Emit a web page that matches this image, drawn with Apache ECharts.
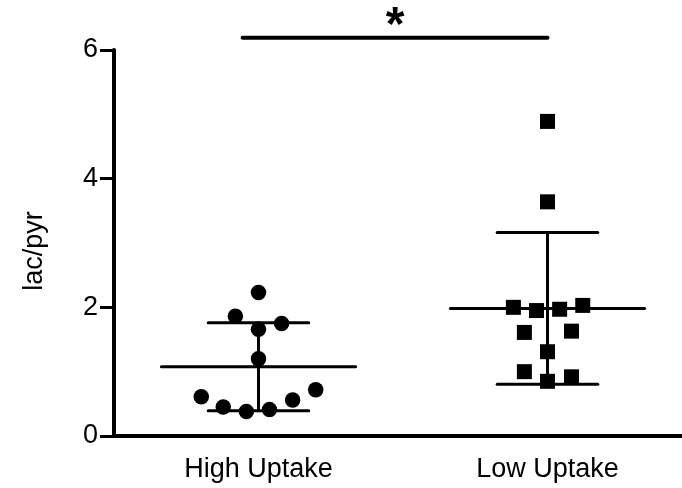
<!DOCTYPE html>
<html>
<head>
<meta charset="utf-8">
<script src="https://cdn.jsdelivr.net/npm/echarts@6/dist/echarts.min.js"></script>
<style>
  html, body { margin: 0; padding: 0; background: #fff; }
  #chart { width: 682px; height: 488px; }
</style>
</head>
<body>
<div id="chart"></div>
<script>
// Group names and the individual lac/pyr ratios in each group
const categories = ['High Uptake', 'Low Uptake'];
const highUptake = [2.23, 1.86, 1.75, 1.66, 1.20, 0.61, 0.72, 0.56, 0.45, 0.38, 0.41];
const lowUptake = [4.89, 3.64, 2.00, 1.95, 1.97, 2.03, 1.61, 1.63, 1.31, 1.00, 0.92, 0.85];
// Horizontal scatter of each point around its group centre (in group units)
const highSpread = [0, -0.08, 0.08, 0, 0, -0.198, 0.198, 0.118, -0.122, -0.042, 0.038];
const lowSpread = [0, 0, -0.118, -0.038, 0.042, 0.122, -0.08, 0.083, 0, -0.08, 0.083, 0];
const yTicks = [0, 2, 4, 6];
const yTitle = 'lac/pyr';
const sigText = '*';
// Significance bar between the groups: start, end and height in data units
const sigBar = [-0.055, 1, 6.19];

function mean(a) { return a.reduce((s, v) => s + v, 0) / a.length; }
function sd(a) {
  const m = mean(a);
  return Math.sqrt(a.reduce((s, v) => s + (v - m) * (v - m), 0) / (a.length - 1));
}

const groups = [highUptake, lowUptake];
const stats = groups.map((g, i) => [i, mean(g), sd(g)]);

const chart = echarts.init(document.getElementById('chart'));
const font = 'Liberation Sans, Arial, sans-serif';

chart.setOption({
  animation: false,
  backgroundColor: '#fff',
  grid: { left: 114, top: 50, bottom: 52, width: 578, containLabel: false, outerBoundsMode: 'none' },
  xAxis: [
    {
      type: 'category',
      data: categories,
      boundaryGap: true,
      axisLine: { lineStyle: { color: '#000', width: 4 } },
      axisTick: { alignWithLabel: true, length: 13, lineStyle: { color: '#000', width: 3 } },
      axisLabel: { color: '#000', fontSize: 27, fontFamily: font, margin: 20 },
      splitLine: { show: false }
    },
    {
      type: 'value',
      min: -0.5,
      max: 1.5,
      show: false
    }
  ],
  yAxis: {
    type: 'value',
    min: yTicks[0],
    max: yTicks[yTicks.length - 1],
    interval: yTicks[1] - yTicks[0],
    name: yTitle,
    nameLocation: 'middle',
    nameGap: 66,
    nameTextStyle: { color: '#000', fontSize: 27, fontFamily: font, padding: [0, 16, 0, 0] },
    axisLine: { show: true, onZero: false, lineStyle: { color: '#000', width: 4 } },
    axisTick: { show: true, length: 14, lineStyle: { color: '#000', width: 3 } },
    axisLabel: { color: '#000', fontSize: 27, fontFamily: font, margin: 16 },
    splitLine: { show: false }
  },
  series: [
    {
      type: 'scatter',
      xAxisIndex: 1,
      symbol: 'circle',
      symbolSize: 15.5,
      itemStyle: { color: '#000', opacity: 1 },
      data: highUptake.map((v, i) => [0 + highSpread[i], v])
    },
    {
      type: 'scatter',
      xAxisIndex: 1,
      symbol: 'rect',
      symbolSize: 15,
      itemStyle: { color: '#000', opacity: 1 },
      data: lowUptake.map((v, i) => [1 + lowSpread[i], v])
    },
    {
      // mean line with ±SD whiskers for each group
      type: 'custom',
      xAxisIndex: 1,
      data: stats,
      renderItem: function (params, api) {
        const x = api.value(0), m = api.value(1), s = api.value(2);
        const style = { stroke: '#000', lineWidth: 3, lineCap: 'round' };
        const seg = (x1, y1, x2, y2) => {
          const a = api.coord([x1, y1]), b = api.coord([x2, y2]);
          return { type: 'line', shape: { x1: a[0], y1: a[1], x2: b[0], y2: b[1] }, style: style };
        };
        return {
          type: 'group',
          children: [
            seg(x - 0.336, m, x + 0.336, m),
            seg(x, m - s, x, m + s),
            seg(x - 0.174, m + s, x + 0.174, m + s),
            seg(x - 0.174, m - s, x + 0.174, m - s)
          ]
        };
      }
    },
    {
      // significance bar and star above the groups
      type: 'custom',
      xAxisIndex: 1,
      clip: false,
      data: [sigBar],
      renderItem: function (params, api) {
        const a = api.coord([api.value(0), api.value(2)]);
        const b = api.coord([api.value(1), api.value(2)]);
        return {
          type: 'group',
          children: [
            { type: 'line', shape: { x1: a[0], y1: a[1], x2: b[0], y2: b[1] },
              style: { stroke: '#000', lineWidth: 4, lineCap: 'round' } },
            { type: 'text', x: (a[0] + b[0]) / 2, y: a[1] - 35,
              style: { text: sigText, fill: '#000', font: 'bold 48px ' + font,
                       align: 'center', verticalAlign: 'top' } }
          ]
        };
      }
    }
  ]
});
</script>
</body>
</html>
